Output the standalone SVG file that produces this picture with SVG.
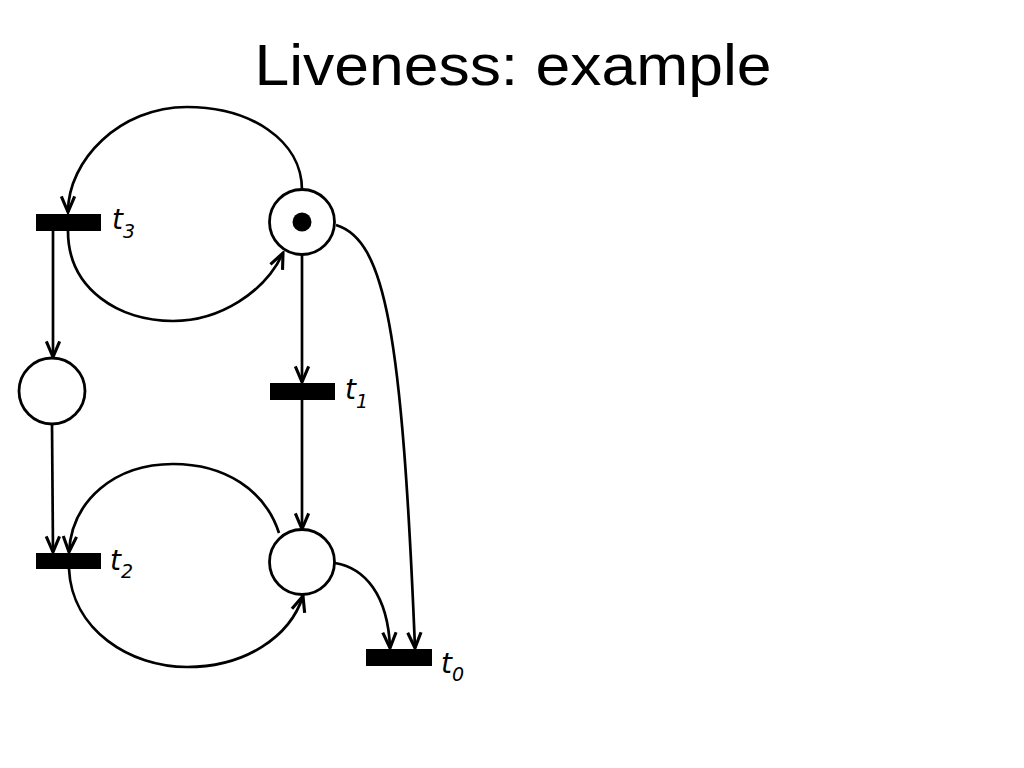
<svg xmlns="http://www.w3.org/2000/svg" width="1024" height="768" viewBox="0 0 1024 768">
<style>
.place{fill:#fff;stroke:#000;stroke-width:2.8}
.bar{fill:#000}
.arc{fill:none;stroke:#000;stroke-width:2.7;marker-end:url(#ah)}
.lbl{font-family:"DejaVu Sans",Verdana,sans-serif;font-style:italic;font-size:28px;fill:#000}
.sub{font-size:19px}
.title{font-family:"Liberation Sans",Arial,sans-serif;font-size:57px;fill:#000}
</style>
<defs>
<marker id="ah" markerUnits="userSpaceOnUse" markerWidth="20" markerHeight="20" viewBox="-16 -8 18 16" refX="0" refY="0" orient="auto">
<path d="M-14,-6 L0,0 L-14,6" fill="none" stroke="#000" stroke-width="2.8"/>
</marker>
</defs>
<rect width="1024" height="768" fill="#fff"/>
<text class="title" x="513" y="85" text-anchor="middle" textLength="517" lengthAdjust="spacingAndGlyphs">Liveness: example</text>

<g id="connectors">
<path class="arc" d="M302,190 C302,140 250,107 187,107 C120,107 68,160 68,212"/>
<path class="arc" d="M68,231 C68,290 120,321 173,321 C220,321 265,292 283,253"/>
<path class="arc" d="M53,231 L53,357"/>
<path class="arc" d="M52,424 L53,552"/>
<path class="arc" d="M279,533 C265,490 225,464 173,464 C115,464 72,500 69,552"/>
<path class="arc" d="M69,569 C72,630 130,667 187,667 C245,667 290,637 303,596"/>
<path class="arc" d="M302,254 L302,382"/>
<path class="arc" d="M302,400 L302,529"/>
<path class="arc" d="M335,563 C365,568 388,595 390,648"/>
<path class="arc" d="M336,225 C385,240 402,330 415,648"/>
</g>

<g id="p_top">
<circle class="place" cx="302" cy="222" r="32.5"/>
<circle cx="302" cy="222" r="9.5" fill="#000"/>
</g>
<g id="p_left">
<circle class="place" cx="52" cy="391" r="33"/>
</g>
<g id="p_mid">
<circle class="place" cx="302" cy="562" r="32.5"/>
</g>
<g id="t3">
<rect class="bar" x="36" y="214" width="65" height="17"/>
<text class="lbl" x="112" y="229">t<tspan class="sub" dy="9">3</tspan></text>
</g>
<g id="t1">
<rect class="bar" x="270" y="383" width="65" height="17"/>
<text class="lbl" x="345" y="399">t<tspan class="sub" dy="9">1</tspan></text>
</g>
<g id="t2">
<rect class="bar" x="36" y="553" width="65" height="16"/>
<text class="lbl" x="110" y="570">t<tspan class="sub" dy="8">2</tspan></text>
</g>
<g id="t0">
<rect class="bar" x="366" y="649" width="66" height="17"/>
<text class="lbl" x="441" y="673">t<tspan class="sub" dy="8">0</tspan></text>
</g>
</svg>
